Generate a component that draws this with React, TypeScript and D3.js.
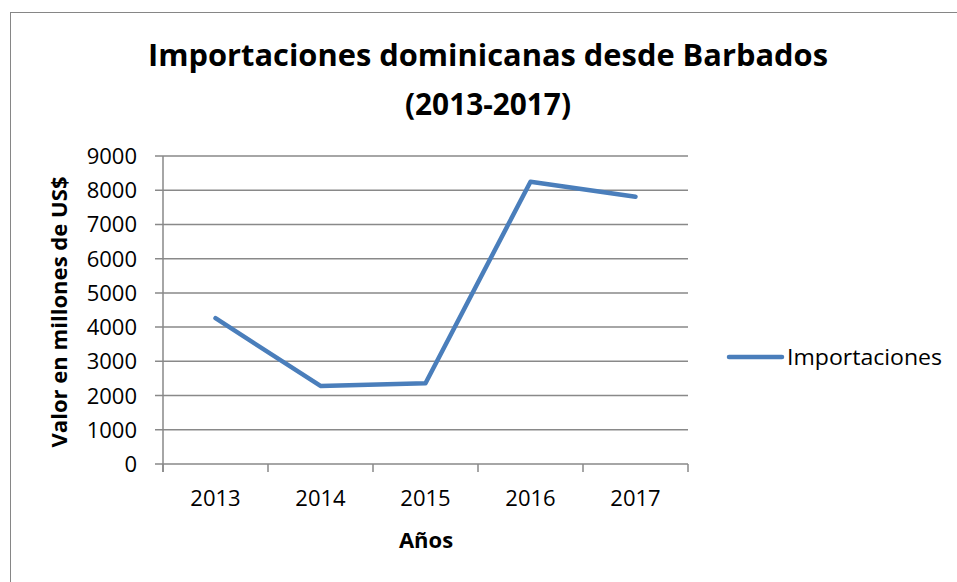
import React from "react";
import * as d3 from "d3";

const years = ["2013", "2014", "2015", "2016", "2017"];
const importaciones = [4260, 2280, 2360, 8250, 7810];
const yTicks = [0, 1000, 2000, 3000, 4000, 5000, 6000, 7000, 8000, 9000];
const titleLines = ["Importaciones dominicanas desde Barbados", "(2013-2017)"];
const seriesName = "Importaciones";
const xTitle = "Años";
const yTitle = "Valor en millones de US$";

const W = 957;
const H = 582;
const FONT = "'Open Sans', 'Noto Sans', sans-serif";
const GRID = "#898989";
const LINE = "#4a7ebb";

export default function App() {
  const left = 163, right = 688, top = 156, bottom = 464;
  const x = d3.scaleBand<string>().domain(years).range([left, right]);
  const y = d3.scaleLinear().domain([0, 9000]).range([bottom, top]);
  const line = d3
    .line<number>()
    .x((_, i) => (x(years[i]) as number) + x.bandwidth() / 2)
    .y((d) => y(d));
  const boundaries = [...years.map((yr) => x(yr) as number), right];

  return (
    <svg
      width={W}
      height={H}
      style={{ position: "absolute", left: 0, top: 0, background: "#fff" }}
      fontFamily={FONT}
    >
      <rect x={10.5} y={12.5} width={1000} height={1000} fill="#fff" stroke="#868686" strokeWidth={1} />
      {/* title */}
      <text x={488} y={66} textAnchor="middle" fontSize={31} fontWeight="bold" fill="#000" textLength={680} lengthAdjust="spacingAndGlyphs">
        {titleLines[0]}
      </text>
      <text x={488} y={115} textAnchor="middle" fontSize={31} fontWeight="bold" fill="#000" textLength={166} lengthAdjust="spacingAndGlyphs">
        {titleLines[1]}
      </text>
      {/* gridlines */}
      {yTicks.map((t) => (
        <line key={"g" + t} x1={left - 8} x2={right} y1={y(t)} y2={y(t)} stroke={GRID} strokeWidth={1.5} />
      ))}
      {/* y axis */}
      <line x1={left} x2={left} y1={top} y2={bottom + 8} stroke={GRID} strokeWidth={1.5} />
      {boundaries.map((b, i) => (
        <line key={"xt" + i} x1={b} x2={b} y1={bottom} y2={bottom + 8} stroke={GRID} strokeWidth={1.5} />
      ))}
      {/* y tick labels */}
      {yTicks.map((t) => (
        <text key={"yl" + t} x={137} y={y(t) + 8} textAnchor="end" fontSize={22} fill="#000">
          {t}
        </text>
      ))}
      {/* x tick labels */}
      {years.map((yr) => (
        <text key={"xl" + yr} x={(x(yr) as number) + x.bandwidth() / 2} y={506} textAnchor="middle" fontSize={22} fill="#000">
          {yr}
        </text>
      ))}
      {/* axis titles */}
      <text x={426} y={548} textAnchor="middle" fontSize={22} fontWeight="bold" fill="#000">
        {xTitle}
      </text>
      <text
        transform={`translate(67,312) rotate(-90)`}
        textAnchor="middle"
        fontSize={21}
        fontWeight="bold"
        fill="#000"
        textLength={271}
        lengthAdjust="spacingAndGlyphs"
      >
        {yTitle}
      </text>
      {/* series */}
      <path d={line(importaciones) || ""} fill="none" stroke={LINE} strokeWidth={4.5} strokeLinejoin="round" strokeLinecap="round" />
      {/* legend */}
      <line x1={729} x2={782} y1={357} y2={357} stroke={LINE} strokeWidth={4.5} strokeLinecap="round" />
      <text x={787} y={365} fontSize={22} fill="#000" textLength={155} lengthAdjust="spacingAndGlyphs">
        {seriesName}
      </text>
    </svg>
  );
}
